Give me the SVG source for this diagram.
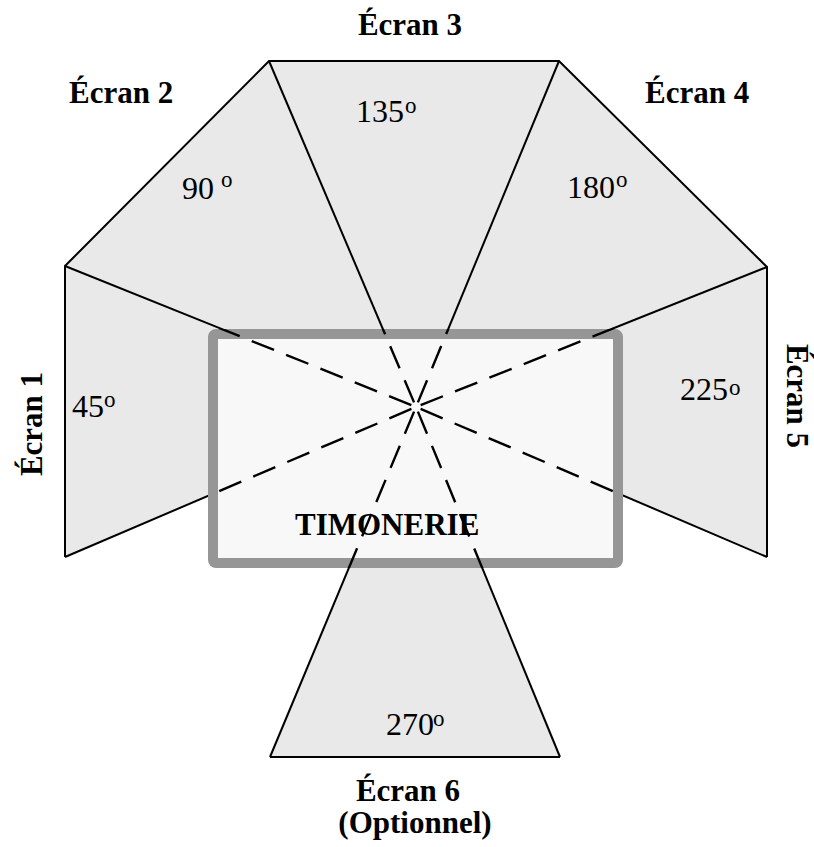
<svg xmlns="http://www.w3.org/2000/svg" width="814" height="847" viewBox="0 0 814 847">
<style>
.scr{fill:#e9e9e9;stroke:none}
.edge{stroke:#000;stroke-width:2;fill:none;stroke-linejoin:miter}
.ray{stroke:#000;stroke-width:2;fill:none}
.dash{stroke:#000;stroke-width:2.4;fill:none;stroke-dasharray:24 13;stroke-dashoffset:32}
.lbl{font-family:"Liberation Serif","Times New Roman",serif;font-weight:bold;font-size:31px;fill:#000}
.ang{font-family:"Liberation Serif","Times New Roman",serif;font-size:32px;fill:#000}
.sup{font-family:"Liberation Serif","Times New Roman",serif;font-size:23px;fill:#000}
</style>
<defs>
<clipPath id="rc"><rect x="208" y="329" width="415" height="239" rx="4"/></clipPath>
</defs>
<rect width="814" height="847" fill="#fff"/>
<g id="screens">
<polygon class="scr" points="65,557 65,266 269,61 559,61 767,267 767,557 416,407"/>
<polygon class="scr" points="270,757 560,757 416,407"/>
</g>
<g id="connectors">
<g id="rays-solid">
<line class="ray" x1="65" y1="266" x2="416" y2="407"/>
<line class="ray" x1="269" y1="61" x2="416" y2="407"/>
<line class="ray" x1="559" y1="61" x2="416" y2="407"/>
<line class="ray" x1="767" y1="267" x2="416" y2="407"/>
<line class="ray" x1="65" y1="557" x2="416" y2="407"/>
<line class="ray" x1="767" y1="557" x2="416" y2="407"/>
<line class="ray" x1="270" y1="757" x2="416" y2="407"/>
<line class="ray" x1="560" y1="757" x2="416" y2="407"/>
</g>
<polyline class="edge" points="65,557 65,266 269,61 559,61 767,267 767,557"/>
<line class="edge" x1="270" y1="757" x2="560" y2="757"/>
</g>
<g id="timonerie">
<rect x="213" y="334" width="405" height="229" rx="3" fill="#f8f8f8" stroke="#969696" stroke-width="10" stroke-linejoin="round"/>
<text class="lbl" x="295" y="535">TIMONERIE</text>
</g>
<g id="rays-dashed" clip-path="url(#rc)">
<line class="dash" x1="416" y1="407" x2="65" y2="266"/>
<line class="dash" x1="416" y1="407" x2="269" y2="61"/>
<line class="dash" x1="416" y1="407" x2="559" y2="61"/>
<line class="dash" x1="416" y1="407" x2="767" y2="267"/>
<line class="dash" x1="416" y1="407" x2="65" y2="557"/>
<line class="dash" x1="416" y1="407" x2="767" y2="557"/>
<line class="dash" x1="416" y1="407" x2="270" y2="757"/>
<line class="dash" x1="416" y1="407" x2="560" y2="757"/>
</g>
<g id="ecran1">
<text class="lbl" text-anchor="middle" transform="translate(41.5,424) rotate(-90)">Écran 1</text>
<text class="ang" x="72" y="417">45</text>
<text class="sup" x="104" y="407">o</text>
</g>
<g id="ecran2">
<text class="lbl" x="69" y="103">Écran 2</text>
<text class="ang" x="182" y="199">90</text>
<text class="sup" x="221" y="187">o</text>
</g>
<g id="ecran3">
<text class="lbl" x="410" y="35" text-anchor="middle">Écran 3</text>
<text class="ang" x="356" y="122">135</text>
<text class="sup" x="405" y="113">o</text>
</g>
<g id="ecran4">
<text class="lbl" x="645" y="103">Écran 4</text>
<text class="ang" x="567" y="198">180</text>
<text class="sup" x="616" y="187">o</text>
</g>
<g id="ecran5">
<text class="lbl" text-anchor="middle" transform="translate(787,396) rotate(90)">Écran 5</text>
<text class="ang" x="680" y="400">225</text>
<text class="sup" x="729" y="395">o</text>
</g>
<g id="ecran6">
<text class="lbl" x="408" y="801" text-anchor="middle">Écran 6</text>
<text class="lbl" x="415" y="833" text-anchor="middle">(Optionnel)</text>
<text class="ang" x="386" y="735">270</text>
<text class="sup" x="433" y="726">o</text>
</g>
</svg>
